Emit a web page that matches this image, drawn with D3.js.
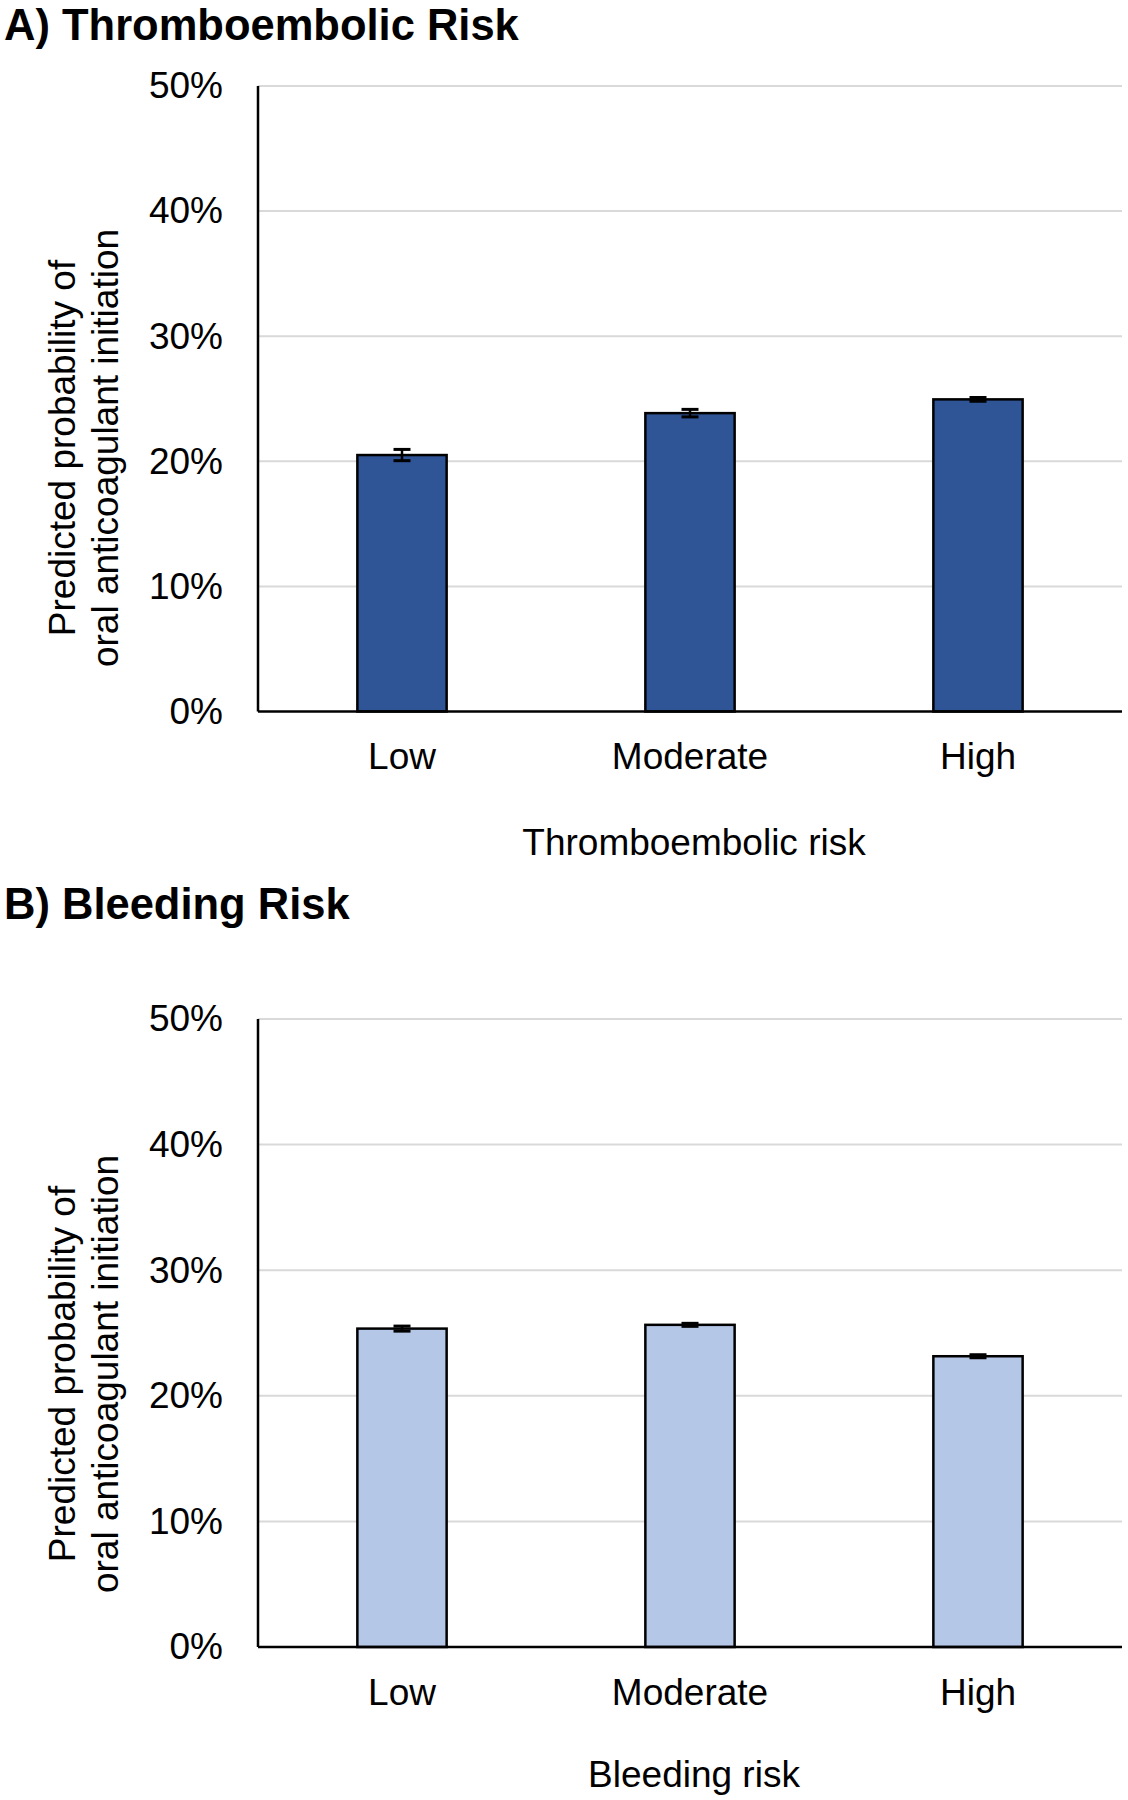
<!DOCTYPE html>
<html>
<head>
<meta charset="utf-8">
<script src="https://cdn.jsdelivr.net/npm/d3@7"></script>
<style>
  body { margin: 0; background: #fff; }
  svg { display: block; }
  text { font-family: "Liberation Sans", Arial, sans-serif; fill: #000; }
</style>
</head>
<body>
<svg id="chart" width="1128" height="1800"></svg>
<script>
// ---- Data ----
const categories = ["Low", "Moderate", "High"];
const yTicks = [0, 10, 20, 30, 40, 50];

const thromboValues = [20.5, 23.85, 24.95];
const thromboErrors = [0.45, 0.3, 0.15];

const bleedingValues = [25.35, 25.65, 23.15];
const bleedingErrors = [0.2, 0.12, 0.12];

const panelTitles = ["A) Thromboembolic Risk", "B) Bleeding Risk"];
const xAxisTitles = ["Thromboembolic risk", "Bleeding risk"];
const yAxisTitleLines = ["Predicted probability of", "oral anticoagulant initiation"];

// ---- Drawing ----
const svg = d3.select("#chart");

function drawPanel(opts) {
  const left = 258, right = 1122;
  const x = d3.scaleBand().domain(categories).range([left, right]).paddingInner(0.69).paddingOuter(0.345);
  const y = d3.scaleLinear().domain([0, 50]).range([opts.bottom, opts.top]);
  const g = svg.append("g");

  // title
  g.append("text").attr("x", 4).attr("y", opts.titleY)
    .style("font-size", "43.5px").style("font-weight", "bold")
    .text(opts.title);

  // gridlines
  g.selectAll("line.grid").data(yTicks.filter(d => d > 0)).join("line")
    .attr("class", "grid")
    .attr("x1", left).attr("x2", right)
    .attr("y1", d => y(d)).attr("y2", d => y(d))
    .attr("stroke", "#d9d9d9").attr("stroke-width", 2);

  // y tick labels via axis
  const yAxis = d3.axisLeft(y).tickValues(yTicks).tickFormat(d => d + "%").tickSize(0).tickPadding(35);
  const ya = g.append("g").attr("transform", `translate(${left},0)`).call(yAxis);
  ya.select(".domain").remove();
  ya.selectAll("text").style("font-size", "37px").style("font-family", "'Liberation Sans', Arial, sans-serif").attr("fill", "#000");

  // bars
  g.selectAll("rect.bar").data(opts.values).join("rect")
    .attr("class", "bar")
    .attr("x", (d, i) => x(categories[i]))
    .attr("width", x.bandwidth())
    .attr("y", d => y(d))
    .attr("height", d => y(0) - y(d))
    .attr("fill", opts.fill)
    .attr("stroke", "#000").attr("stroke-width", 2.5);

  // error bars
  const capW = 17;
  opts.values.forEach((v, i) => {
    const cx = x(categories[i]) + x.bandwidth() / 2;
    const e = opts.errors[i];
    g.append("line").attr("x1", cx).attr("x2", cx).attr("y1", y(v + e)).attr("y2", y(v - e))
      .attr("stroke", "#000").attr("stroke-width", 2.5);
    [v + e, v - e].forEach(t => {
      g.append("line").attr("x1", cx - capW / 2).attr("x2", cx + capW / 2)
        .attr("y1", y(t)).attr("y2", y(t))
        .attr("stroke", "#000").attr("stroke-width", 3);
    });
  });

  // axes lines
  g.append("line").attr("x1", left).attr("x2", left).attr("y1", y(50)).attr("y2", y(0))
    .attr("stroke", "#000").attr("stroke-width", 2.5);
  const xAxis = d3.axisBottom(x).tickSize(0).tickPadding(0);
  const xa = g.append("g").attr("transform", `translate(0,${y(0)})`).call(xAxis);
  xa.select(".domain").attr("stroke", "#000").attr("stroke-width", 2.5).attr("d", `M${left},0H${right}`);
  xa.selectAll("text").style("font-size", "37px").style("font-family", "'Liberation Sans', Arial, sans-serif")
    .attr("fill", "#000").attr("dy", null).attr("y", opts.catY - y(0));

  // x axis title
  g.append("text").attr("x", 694).attr("y", opts.xTitleY).attr("text-anchor", "middle")
    .style("font-size", "37px").text(opts.xTitle);

  // y axis title
  const yt = g.append("text").attr("text-anchor", "middle")
    .attr("transform", `translate(0,${opts.yTitleCenter}) rotate(-90)`)
    .style("font-size", "37px");
  yt.append("tspan").attr("x", 0).attr("y", 75).text(yAxisTitleLines[0]);
  yt.append("tspan").attr("x", 0).attr("y", 118).text(yAxisTitleLines[1]);
}

drawPanel({
  title: panelTitles[0], titleY: 40, top: 86, bottom: 711.5,
  values: thromboValues, errors: thromboErrors, fill: "#2F5597",
  catY: 769, xTitle: xAxisTitles[0], xTitleY: 855, yTitleCenter: 448
});
drawPanel({
  title: panelTitles[1], titleY: 919, top: 1019, bottom: 1647,
  values: bleedingValues, errors: bleedingErrors, fill: "#B4C7E7",
  catY: 1705, xTitle: xAxisTitles[1], xTitleY: 1787, yTitleCenter: 1374
});
</script>
</body>
</html>
